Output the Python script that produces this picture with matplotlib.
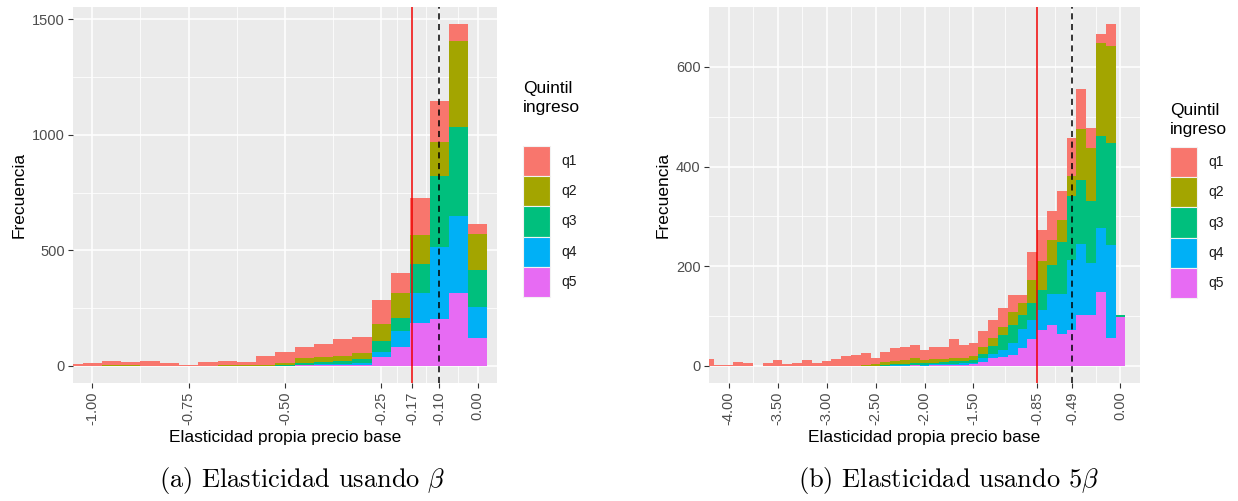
import numpy as np
import matplotlib
matplotlib.use("Agg")
import matplotlib.pyplot as plt
from matplotlib.patches import Rectangle

plt.rcParams['font.family'] = ['Liberation Sans', 'DejaVu Sans']
plt.rcParams['mathtext.fontset'] = 'cm'

quintiles = ["q1", "q2", "q3", "q4", "q5"]
colors = ["#F8766D", "#A3A500", "#00BF7D", "#00B0F6", "#E76BF3"]

# panel (a): elasticidad usando beta, bins de 0.05
centers_a = [-1.05, -1.00, -0.95, -0.90, -0.85, -0.80, -0.75, -0.70, -0.65, -0.60, -0.55,
             -0.50, -0.45, -0.40, -0.35, -0.30, -0.25, -0.20, -0.15, -0.10, -0.05, 0.00]
q1_a = [7, 12, 18, 13, 22, 12, 5, 17, 21, 17, 40, 48, 50, 54, 74, 72, 103, 87, 158, 178, 72, 44]
q2_a = [0, 0, 5, 4, 1, 0, 0, 1, 2, 2, 4, 10, 21, 20, 20, 24, 72, 108, 128, 146, 374, 158]
q3_a = [0, 0, 0, 0, 0, 0, 0, 0, 0, 0, 0, 3, 7, 11, 12, 16, 47, 56, 122, 308, 386, 157]
q4_a = [0, 0, 0, 0, 0, 0, 0, 0, 0, 0, 0, 1, 3, 4, 7, 11, 25, 69, 130, 312, 331, 137]
q5_a = [0, 0, 0, 0, 0, 0, 0, 0, 0, 0, 0, 0, 2, 4, 3, 3, 37, 83, 187, 202, 316, 119]
breaks_a = [-1.00, -0.75, -0.50, -0.25, -0.17, -0.10, 0.00]
labels_a = ["-1.00", "-0.75", "-0.50", "-0.25", "-0.17", "-0.10", "0.00"]

# panel (b): elasticidad usando 5 beta, bins de 0.1
centers_b = [-4.2, -4.1, -4.0, -3.9, -3.8, -3.7, -3.6, -3.5, -3.4, -3.3, -3.2, -3.1, -3.0,
             -2.9, -2.8, -2.7, -2.6, -2.5, -2.4, -2.3, -2.2, -2.1, -2.0, -1.9, -1.8, -1.7,
             -1.6, -1.5, -1.4, -1.3, -1.2, -1.1, -1.0, -0.9, -0.8, -0.7, -0.6, -0.5, -0.4,
             -0.3, -0.2, -0.1, 0.0]
q1_b = [13, 2, 2, 8, 5, 0, 5, 11, 3, 5, 11, 6, 9, 13, 19, 22, 23, 11, 21, 26, 25, 26, 19,
        24, 24, 38, 26, 27, 34, 35, 38, 33, 15, 56, 62, 58, 59, 75, 80, 40, 17, 44, 0]
q2_b = [0, 0, 0, 0, 0, 0, 0, 0, 0, 0, 0, 0, 0, 0, 0, 0, 2, 4, 6, 7, 9, 10, 7, 8, 7, 7, 6,
        7, 14, 18, 17, 27, 25, 46, 59, 50, 44, 41, 103, 106, 187, 194, 0]
q3_b = [0, 0, 0, 0, 0, 0, 0, 0, 0, 0, 0, 0, 0, 0, 0, 0, 0, 0, 1, 2, 2, 3, 3, 3, 4, 5, 4,
        7, 8, 16, 30, 37, 27, 34, 39, 57, 104, 129, 129, 124, 185, 206, 4]
q4_b = [0, 0, 0, 0, 0, 0, 0, 0, 0, 0, 0, 0, 0, 0, 0, 0, 0, 0, 0, 1, 1, 1, 2, 2, 2, 3, 3,
        2, 7, 8, 15, 23, 40, 38, 40, 62, 81, 140, 141, 104, 128, 185, 0]
q5_b = [0, 0, 0, 0, 0, 0, 0, 0, 0, 0, 0, 0, 0, 0, 0, 0, 0, 0, 0, 0, 0, 1, 0, 1, 1, 1, 2,
        3, 8, 15, 17, 22, 35, 55, 73, 83, 64, 72, 103, 103, 149, 57, 99]
breaks_b = [-4.00, -3.50, -3.00, -2.50, -2.00, -1.50, -0.85, -0.49, 0.00]
labels_b = ["-4.00", "-3.50", "-3.00", "-2.50", "-2.00", "-1.50", "-0.85", "-0.49", "0.00"]

W, H = 1238, 501
fig = plt.figure(figsize=(W / 100, H / 100), dpi=100)


def px_axes(x0, y0, x1, y1):
    return fig.add_axes([x0 / W, 1 - y1 / H, (x1 - x0) / W, (y1 - y0) / H])


def draw_hist(ax, centers, series, width, xlim, breaks, labels, yticks, yminor,
              xminor, red_x, dash_x):
    ax.set_facecolor("#EBEBEB")
    for s in ax.spines.values():
        s.set_visible(False)
    bottom = np.zeros(len(centers))
    # ggplot apila q5 abajo y q1 arriba
    for vals, col in zip(series[::-1], colors[::-1]):
        vals = np.array(vals, dtype=float)
        ax.bar(centers, vals, width=width, bottom=bottom, color=col, linewidth=0, zorder=2)
        bottom += vals
    top = bottom.max()
    ax.set_xlim(xlim[0] - 0.05 * (xlim[1] - xlim[0]), xlim[1] + 0.05 * (xlim[1] - xlim[0]))
    ax.set_ylim(-0.05 * top, 1.05 * top)
    ax.set_xticks(breaks)
    ax.set_xticklabels(labels, rotation=90)
    ax.set_xticks(xminor, minor=True)
    ax.set_yticks(yticks)
    ax.set_yticks(yminor, minor=True)
    ax.grid(which="major", color="white", linewidth=1.1, zorder=0)
    ax.grid(which="minor", color="white", linewidth=0.55, zorder=0)
    ax.set_axisbelow(True)
    ax.tick_params(which="major", length=3.5, width=0.8, color="#333333",
                   labelcolor="#4D4D4D", labelsize=10.5, pad=2.5)
    ax.tick_params(which="minor", length=0)
    ax.axvline(red_x, color="#EE0000", linewidth=1.1, zorder=3)
    ax.axvline(dash_x, color="black", linewidth=1.1, linestyle=(0, (4, 3)), zorder=3)
    ax.set_xlabel("Elasticidad propia precio base", fontsize=12.5, labelpad=4)
    ax.set_ylabel("Frecuencia", fontsize=12.5, labelpad=4)


series_a = [q1_a, q2_a, q3_a, q4_a, q5_a]
series_b = [q1_b, q2_b, q3_b, q4_b, q5_b]

ax_a = px_axes(73, 7, 497, 383)
draw_hist(ax_a, centers_a, series_a, 0.05, (-1.0, 0.0), breaks_a, labels_a,
          [0, 500, 1000, 1500], [250, 750, 1250],
          [-0.875, -0.625, -0.375, -0.21, -0.135, -0.05], -0.17, -0.10)

ax_b = px_axes(709, 7, 1140, 383)
draw_hist(ax_b, centers_b, series_b, 0.1, (-4.0, 0.0), breaks_b, labels_b,
          [0, 200, 400, 600], [100, 300, 500],
          [-3.75, -3.25, -2.75, -2.25, -1.75, -1.175, -0.67, -0.245], -0.85, -0.49)


def draw_legend(x, title_y, key_y):
    fig.text(x / W, 1 - title_y / H, "Quintil\ningreso", fontsize=12.5,
             ha="left", va="center", linespacing=1.3)
    kh = 30.2
    for i, (lab, col) in enumerate(zip(quintiles, colors)):
        y0 = key_y + i * kh
        fig.patches.append(Rectangle((x / W, 1 - (y0 + kh) / H), 27 / W, kh / H,
                                     transform=fig.transFigure, facecolor=col,
                                     edgecolor="#F2F2F2", linewidth=0.8))
        fig.text((x + 38) / W, 1 - (y0 + kh / 2) / H, lab, fontsize=10,
                 ha="left", va="center", color="#1A1A1A")


draw_legend(523, 98, 146)
draw_legend(1170, 120, 147)

fig.text(302 / W, 1 - 481 / H, r"(a) Elasticidad usando $\beta$", family="cmr10",
         fontsize=19, ha="center", va="center")
fig.text(948 / W, 1 - 481 / H, r"(b) Elasticidad usando $5\beta$", family="cmr10",
         fontsize=19, ha="center", va="center")

fig.savefig("out.png", dpi=100, facecolor="white")
